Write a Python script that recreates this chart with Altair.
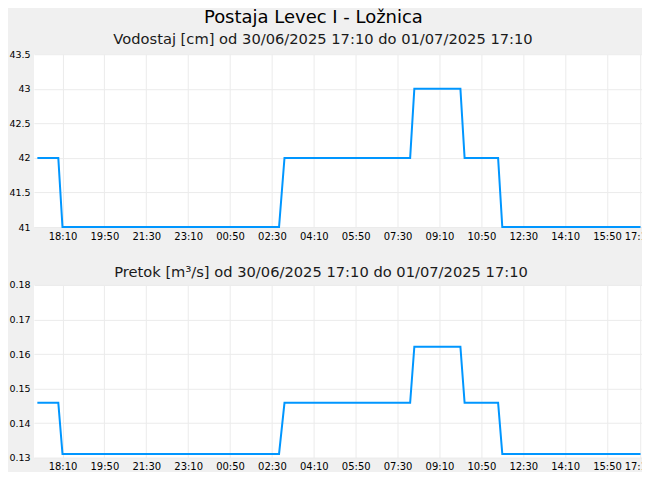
import altair as alt
import pandas as pd

# time in minutes after 30/06/2025 17:10
minutes = [0, 50, 60, 577, 590, 890, 900, 1010, 1020, 1100, 1110, 1440]
vodostaj = [42, 42, 41, 41, 42, 42, 43, 43, 42, 42, 41, 41]
pretok = [0.1459, 0.1459, 0.1311, 0.1311, 0.1459, 0.1459, 0.1621, 0.1621,
          0.1459, 0.1459, 0.1311, 0.1311]

tick_minutes = [60, 160, 260, 360, 460, 560, 660, 760, 860, 960, 1060, 1160, 1260, 1360, 1440]
tick_labels = ["18:10", "19:50", "21:30", "23:10", "00:50", "02:30", "04:10", "05:50",
               "07:30", "09:10", "10:50", "12:30", "14:10", "15:50", "17:10"]
vod_ticks = [41, 41.5, 42, 42.5, 43, 43.5]
pre_ticks = [0.13, 0.14, 0.15, 0.16, 0.17, 0.18]

main_title = "Postaja Levec I - Ložnica"
vod_title = "Vodostaj [cm] od 30/06/2025 17:10 do 01/07/2025 17:10"
pre_title = "Pretok [m³/s] od 30/06/2025 17:10 do 01/07/2025 17:10"

df = pd.DataFrame({"min": minutes, "vodostaj": vodostaj, "pretok": pretok})

FONT = "DejaVu Sans"
label_expr = ("[" + ",".join(f"'{l}'" for l in tick_labels) + "][indexof(["
              + ",".join(str(m) for m in tick_minutes) + "], datum.value)]")
last_tick = tick_minutes[-1]


def panel(field, ticks, domain, subtitle, title_offset, xpad, tdx):
    return alt.Chart(df).mark_line(color="#0096ff", strokeWidth=2).encode(
        x=alt.X("min:Q",
                scale=alt.Scale(domain=[-8.1, 1448.3], nice=False, zero=False),
                axis=alt.Axis(values=tick_minutes, labelExpr=label_expr, title=None,
                              labelPadding=xpad, labelFlush=False,
                              labelOffset={"condition": {"test": f"datum.value == {last_tick}",
                                                         "value": -2},
                                           "value": 0},
                              labelOverlap=False, labelFontSize=10)),
        y=alt.Y(f"{field}:Q",
                scale=alt.Scale(domain=domain, nice=False, zero=False),
                axis=alt.Axis(values=ticks, format="~g", title=None, labelPadding=4,
                              labelFontSize=9.5, labelOverlap=False)),
    ).properties(
        width=610.8, height=173,
        title=alt.TitleParams(subtitle, font=FONT, fontSize=14.7, fontWeight="normal",
                              color="#1a1a1a", anchor="middle", dx=tdx,
                              offset=title_offset),
    )


top = panel("vodostaj", vod_ticks, [41, 43.5], vod_title, 2.3, 5, -16)
bottom = panel("pretok", pre_ticks, [0.13, 0.18], pre_title, 0.6, 4, -18)

chart = alt.vconcat(top, bottom, spacing=22).properties(
    title=alt.TitleParams(main_title, font=FONT, fontSize=18, fontWeight="normal",
                          color="black", anchor="middle", dx=-17.5, offset=5.1),
    background="#f0f0f0",
    padding={"left": 0, "top": 0, "right": -11, "bottom": 0},
).configure_view(fill="white", stroke=None).configure_axis(
    domain=False, ticks=False, grid=True, gridColor="#ebebeb", gridWidth=1,
    labelFont=FONT, labelColor="black",
)

chart.save("out.html", embed_options={"renderer": "svg", "actions": False})
